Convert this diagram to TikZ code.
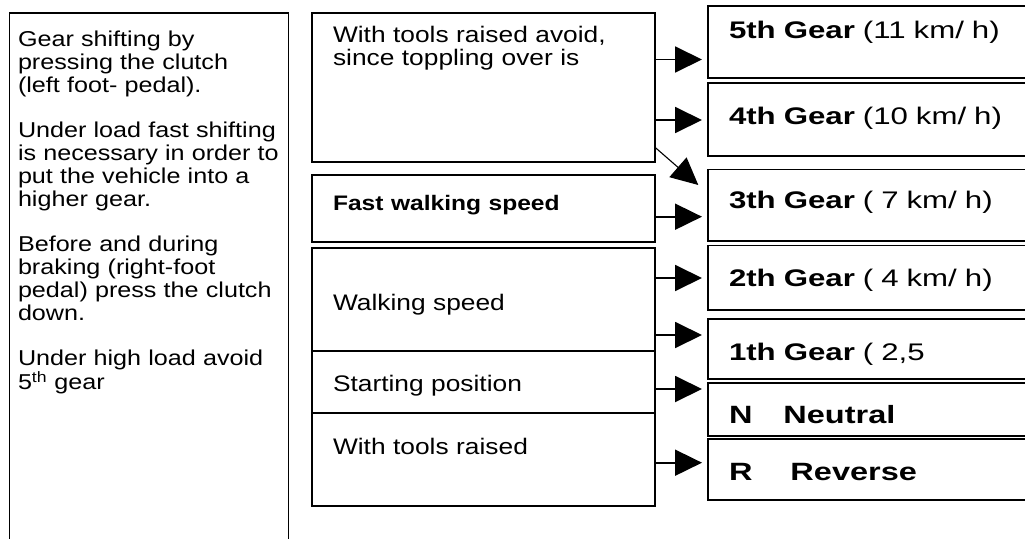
\documentclass[tikz,border=0pt]{standalone}
\usepackage{fontspec}
\setmainfont{Liberation Sans}[FakeStretch=1.17]
\newfontfamily\gearfont{Liberation Sans}[FakeStretch=1.3]
\usetikzlibrary{positioning,arrows.meta}

\tikzset{
  boxline/.style={draw, line width=1.9pt, inner ysep=0pt, outer sep=0pt, align=left},
  hd/.style 2 args={text height=#1pt, text depth=#2pt},
  note/.style={boxline, anchor=north west, inner xsep=8.5pt, text width=262pt,
    font=\fontsize{21.5}{22.8}\selectfont},
  cond/.style={boxline, inner xsep=21.3pt, text width=300.7pt,
    font=\fontsize{22.5}{23}\selectfont},
  gear/.style={boxline, inner xsep=21pt, text width=300pt,
    font=\gearfont\fontsize{24}{26}\selectfont},
  shiftarrow/.style={line width=1.9pt, -{Triangle[length=27pt,width=26pt]}},
}

\begin{document}
\begin{tikzpicture}[x=1pt,y=-1pt]
  \useasboundingbox (0,0) rectangle (1025,538);
  \clip (0,0) rectangle (1025,538);

  \node[note, hd={33.4}{513}] (hints) at (9.5,13.3) {Gear shifting by\\
    pressing the clutch\\
    (left foot- pedal).\\[22.8pt]
    Under load fast shifting\\
    is necessary in order to\\
    put the vehicle into a\\
    higher gear.\\[22.8pt]
    Before and during\\
    braking (right-foot\\
    pedal) press the clutch\\
    down.\\[22.8pt]
    Under high load avoid\\
    5\textsuperscript{th} gear};

  \node[cond, anchor=north west, hd={29.2}{119.5}] (tools) at (311.7,13.3)
    {With tools raised avoid,\\ since toppling over is};
  \node[cond, below=13pt of tools, hd={35.5}{31.2}] (fast)
    {\fontsize{21}{23}\selectfont\bfseries Fast walking speed};
  \node[cond, below=6.6pt of fast, hd={61.7}{40.7}] (walk) {Walking speed};
  \node[cond, below=0pt of walk, hd={41}{21.6}] (start) {Starting position};
  \node[cond, below=0pt of start, hd={41}{51.7}] (raised) {With tools raised};

  \node[gear, anchor=north west, hd={32.8}{39.5}] (g5) at (708,5.7)
    {\textbf{5th Gear} (11 km/ h)};
  \node[gear, below=5pt of g5, hd={41}{32}] (g4) {\textbf{4th Gear} (10 km/ h)};
  \node[gear, below=13.5pt of g4, hd={38.8}{32.4}] (g3) {\textbf{3th Gear} ( 7 km/ h)};
  \node[gear, below=4.8pt of g3, hd={40.5}{24}] (g2) {\textbf{2th Gear} ( 4 km/ h)};
  \node[gear, below=9pt of g2, hd={41}{19.3}] (g1) {\textbf{1th Gear} ( 2,5};
  \node[gear, below=3.4pt of g1, hd={40.3}{12.7}] (gN)
    {\fontsize{25}{26}\selectfont\textbf{N\hspace{31pt}Neutral}};
  \node[gear, below=3.3pt of gN, hd={41}{20}] (gR)
    {\fontsize{25}{26}\selectfont\textbf{R\hspace{38pt}Reverse}};

  \coordinate (t5) at (702,59.5);
  \coordinate (t4) at (702,120);
  \coordinate (t3) at (702,216.7);
  \coordinate (t2) at (702,278);
  \coordinate (t1) at (702,335);
  \coordinate (tN) at (702,389);
  \coordinate (tR) at (702,462.7);
  \coordinate (td) at (698.3,185);

  \draw[shiftarrow] (tools.east |- t5) -- (t5);
  \draw[shiftarrow] (tools.east |- t4) -- (t4);
  \draw[shiftarrow, line width=1.1pt] ([yshift=14.7pt]tools.south east) -- (td);
  \draw[shiftarrow] (fast.east |- t3) -- (t3);
  \draw[shiftarrow] (walk.east |- t2) -- (t2);
  \draw[shiftarrow] (walk.east |- t1) -- (t1);
  \draw[shiftarrow] (start.east |- tN) -- (tN);
  \draw[shiftarrow] (raised.east |- tR) -- (tR);
\end{tikzpicture}
\end{document}
